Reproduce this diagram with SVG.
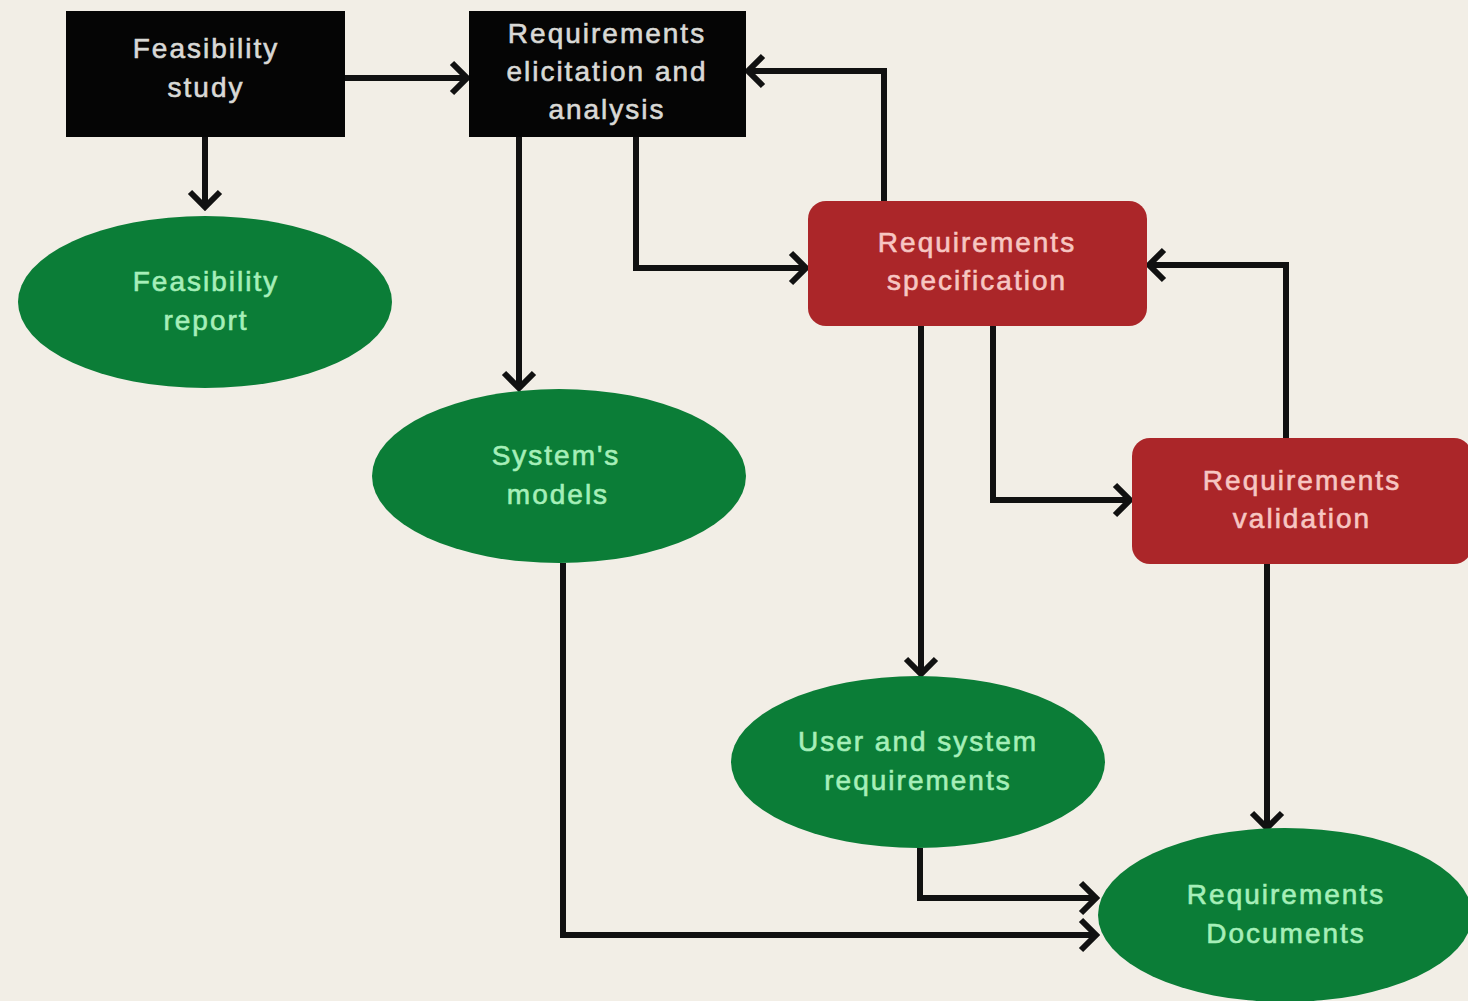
<svg xmlns="http://www.w3.org/2000/svg" width="1468" height="1001" viewBox="0 0 1468 1001">
<defs>
<marker id="ah" viewBox="-20 -20 24 40" refX="0" refY="0" markerWidth="24" markerHeight="40" markerUnits="userSpaceOnUse" orient="auto">
<path d="M-15,-15 L0,0 L-15,15" fill="none" stroke="#111" stroke-width="6"/>
</marker>
<style>
.t{font-family:"Liberation Sans",Arial,sans-serif;font-size:28px;letter-spacing:2px;text-anchor:middle;stroke-width:0.6px}
.bk{fill:#050505}
.bkt{fill:#d9d9d6;stroke:#d9d9d6}
.rd{fill:#ab2629}
.rdt{fill:#f7c6c2;stroke:#f7c6c2}
.gr{fill:#0b7d37}
.grt{fill:#a6efb9;stroke:#a6efb9}
.c{fill:none;stroke:#111;stroke-width:6;marker-end:url(#ah)}
</style>
</defs>
<rect width="1468" height="1001" fill="#f2eee6"/>
<g id="connectors">
<path class="c" d="M345,78 H467"/>
<path class="c" d="M205,137 V207"/>
<path class="c" d="M519,137 V388"/>
<path class="c" d="M636,137 V268 H806"/>
<path class="c" d="M884,201 V71 H748"/>
<path class="c" d="M921,326 V674"/>
<path class="c" d="M993,326 V500 H1130"/>
<path class="c" d="M1286,438 V265 H1149"/>
<path class="c" d="M1267,564 V828"/>
<path class="c" d="M920,848 V898 H1096"/>
<path class="c" d="M563,563 V935 H1096"/>
</g>
<g id="feasibility-study">
<rect class="bk" x="66" y="11" width="279" height="126"/>
<text class="t bkt" x="206" y="58">Feasibility</text>
<text class="t bkt" x="206" y="97">study</text>
</g>
<g id="req-elicitation">
<rect class="bk" x="469" y="11" width="277" height="126"/>
<text class="t bkt" x="607" y="43">Requirements</text>
<text class="t bkt" x="607" y="81">elicitation and</text>
<text class="t bkt" x="607" y="119">analysis</text>
</g>
<g id="feasibility-report">
<ellipse class="gr" cx="205" cy="302" rx="187" ry="86"/>
<text class="t grt" x="206" y="291">Feasibility</text>
<text class="t grt" x="206" y="330">report</text>
</g>
<g id="systems-models">
<ellipse class="gr" cx="559" cy="476" rx="187" ry="87"/>
<text class="t grt" x="556" y="465">System's</text>
<text class="t grt" x="558" y="504">models</text>
</g>
<g id="req-specification">
<rect class="rd" x="808" y="201" width="339" height="125" rx="18"/>
<text class="t rdt" x="977" y="252">Requirements</text>
<text class="t rdt" x="977" y="290">specification</text>
</g>
<g id="req-validation">
<rect class="rd" x="1132" y="438" width="340" height="126" rx="18"/>
<text class="t rdt" x="1302" y="490">Requirements</text>
<text class="t rdt" x="1302" y="528">validation</text>
</g>
<g id="user-system-req">
<ellipse class="gr" cx="918" cy="762" rx="187" ry="86"/>
<text class="t grt" x="918" y="751">User and system</text>
<text class="t grt" x="918" y="790">requirements</text>
</g>
<g id="req-documents">
<ellipse class="gr" cx="1285" cy="915" rx="187" ry="87"/>
<text class="t grt" x="1286" y="904">Requirements</text>
<text class="t grt" x="1286" y="943">Documents</text>
</g>
</svg>
